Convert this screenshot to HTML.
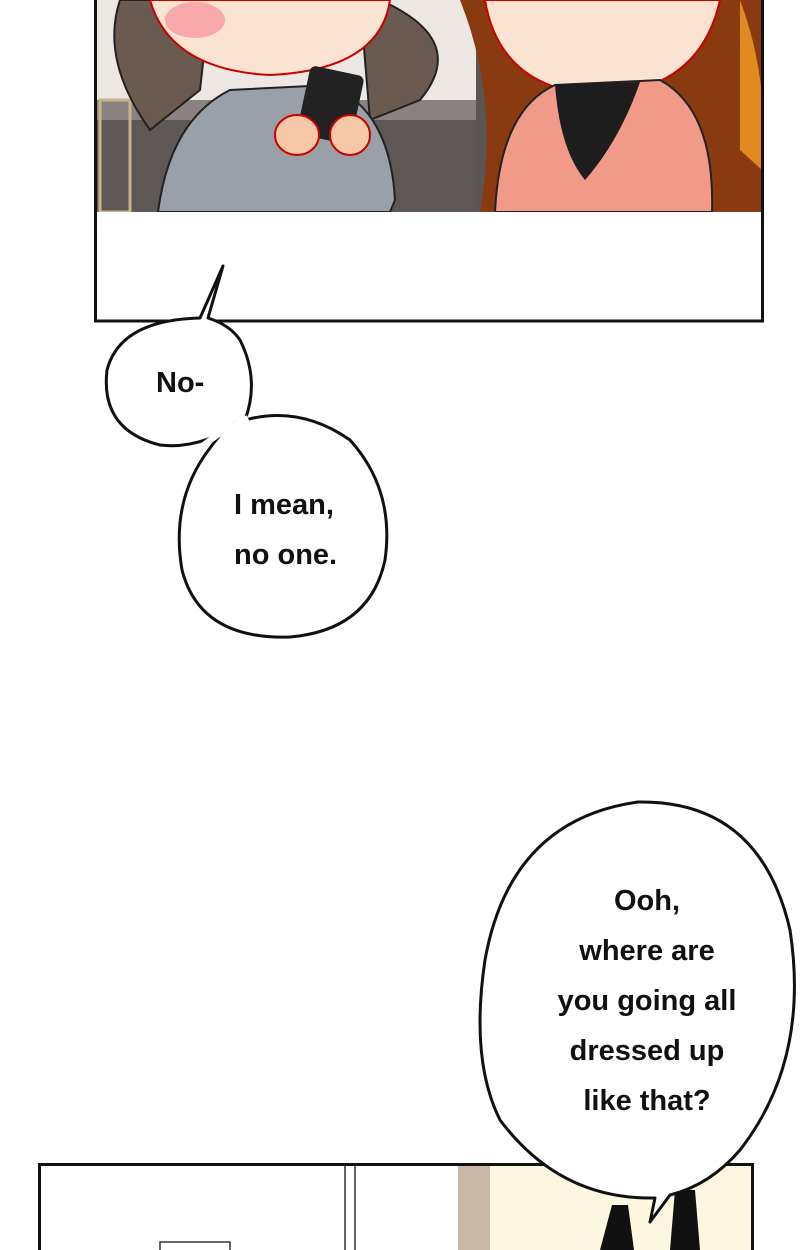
<!DOCTYPE html>
<html><head><meta charset="utf-8"><style>
html,body{margin:0;padding:0;background:#fff;}
svg{display:block}
text{font-family:"Liberation Sans",sans-serif;font-weight:bold;font-size:29px;fill:#111;}
</style></head><body>
<svg width="800" height="1250" viewBox="0 0 800 1250">
<!-- top panel -->
<rect x="96" y="0" width="666" height="212" fill="#5a5552"/>
<rect x="96" y="0" width="380" height="100" fill="#ece7e2"/>
<rect x="96" y="100" width="380" height="20" fill="#8a8280"/>
<rect x="96" y="120" width="380" height="92" fill="#5d5756"/>
<rect x="100" y="100" width="30" height="112" fill="none" stroke="#c9b48a" stroke-width="3"/>
<path d="M120 0 Q100 60 150 130 L200 90 L210 0Z" fill="#6b5a50" stroke="#222" stroke-width="2"/>
<path d="M380 0 Q470 40 420 100 L370 120 L360 0Z" fill="#6b5a50" stroke="#222" stroke-width="2"/>
<path d="M150 0 L390 0 Q380 70 270 75 Q170 70 150 0Z" fill="#fbe3d2" stroke="#c00" stroke-width="2"/>
<ellipse cx="195" cy="20" rx="30" ry="18" fill="#f8a8a8"/>
<path d="M158 212 Q170 120 230 90 L330 85 Q390 110 395 200 L390 212Z" fill="#9aa0a8" stroke="#222" stroke-width="2"/>
<rect x="303" y="70" width="55" height="70" rx="6" fill="#222" transform="rotate(12 330 105)"/>
<ellipse cx="297" cy="135" rx="22" ry="20" fill="#f6c8a8" stroke="#c00" stroke-width="2"/>
<ellipse cx="350" cy="135" rx="20" ry="20" fill="#f6c8a8" stroke="#c00" stroke-width="2"/>
<path d="M460 0 L762 0 L762 212 L480 212 Q500 100 460 0Z" fill="#8a3a10"/>
<path d="M740 0 Q770 80 762 170 L740 150Z" fill="#e08a20"/>
<path d="M485 0 L720 0 Q700 90 600 95 Q500 90 485 0Z" fill="#fbe3d2" stroke="#c00" stroke-width="2"/>
<path d="M495 212 Q500 110 555 85 L660 80 Q715 110 712 212Z" fill="#f29a88" stroke="#222" stroke-width="2"/>
<path d="M555 85 L640 82 Q620 140 585 180 Q560 150 555 85Z" fill="#1d1d1d"/>
<rect x="96" y="212" width="666" height="110" fill="#fff"/>
<rect x="95.5" y="-5" width="667" height="326" fill="none" stroke="#111" stroke-width="3"/>
<!-- bubble 1 -->
<path d="M223 266 L200 318 Q120 320 107 370 Q100 430 160 445 Q200 450 245 420 Q260 380 240 340 Q230 325 208 318Z" fill="#fff" stroke="#111" stroke-width="3" stroke-linejoin="round"/>
<path d="M245 420 Q300 405 350 440 Q395 490 385 560 Q370 630 290 637 Q200 640 182 570 Q170 500 210 448 Q230 420 245 420Z" fill="#fff" stroke="#111" stroke-width="3"/>
<path d="M200 448 Q222 430 248 418" fill="none" stroke="#fff" stroke-width="6"/>
<text x="156" y="392">No-</text>
<text x="234" y="514">I mean,</text>
<text x="234" y="564">no one.</text>
<!-- bottom panel -->
<rect x="40" y="1165" width="712" height="90" fill="#fff"/>
<rect x="458" y="1165" width="32" height="90" fill="#c8b8a8"/>
<rect x="490" y="1165" width="262" height="90" fill="#fdf6e0"/>
<path d="M600 1250 L612 1205 L628 1205 L634 1250Z" fill="#111"/>
<path d="M670 1250 L675 1190 L695 1190 L700 1250Z" fill="#111"/>
<path d="M345 1165 L345 1250 M355 1165 L355 1250" stroke="#333" stroke-width="1.5"/>
<rect x="160" y="1242" width="70" height="10" fill="none" stroke="#333" stroke-width="1.5"/>
<rect x="39.5" y="1164.5" width="713" height="95" fill="none" stroke="#111" stroke-width="3"/>
<!-- big bubble (on top) -->
<path d="M638 802 Q760 800 790 930 Q810 1060 740 1150 Q710 1185 670 1195 L650 1222 L655 1198 Q560 1200 500 1120 Q470 1060 485 960 Q510 820 638 802Z" fill="#fff" stroke="#111" stroke-width="3" stroke-linejoin="round"/>
<g text-anchor="middle">
<text x="647" y="910">Ooh,</text>
<text x="647" y="960">where are</text>
<text x="647" y="1010">you going all</text>
<text x="647" y="1060">dressed up</text>
<text x="647" y="1110">like that?</text>
</g>
</svg>
</body></html>
